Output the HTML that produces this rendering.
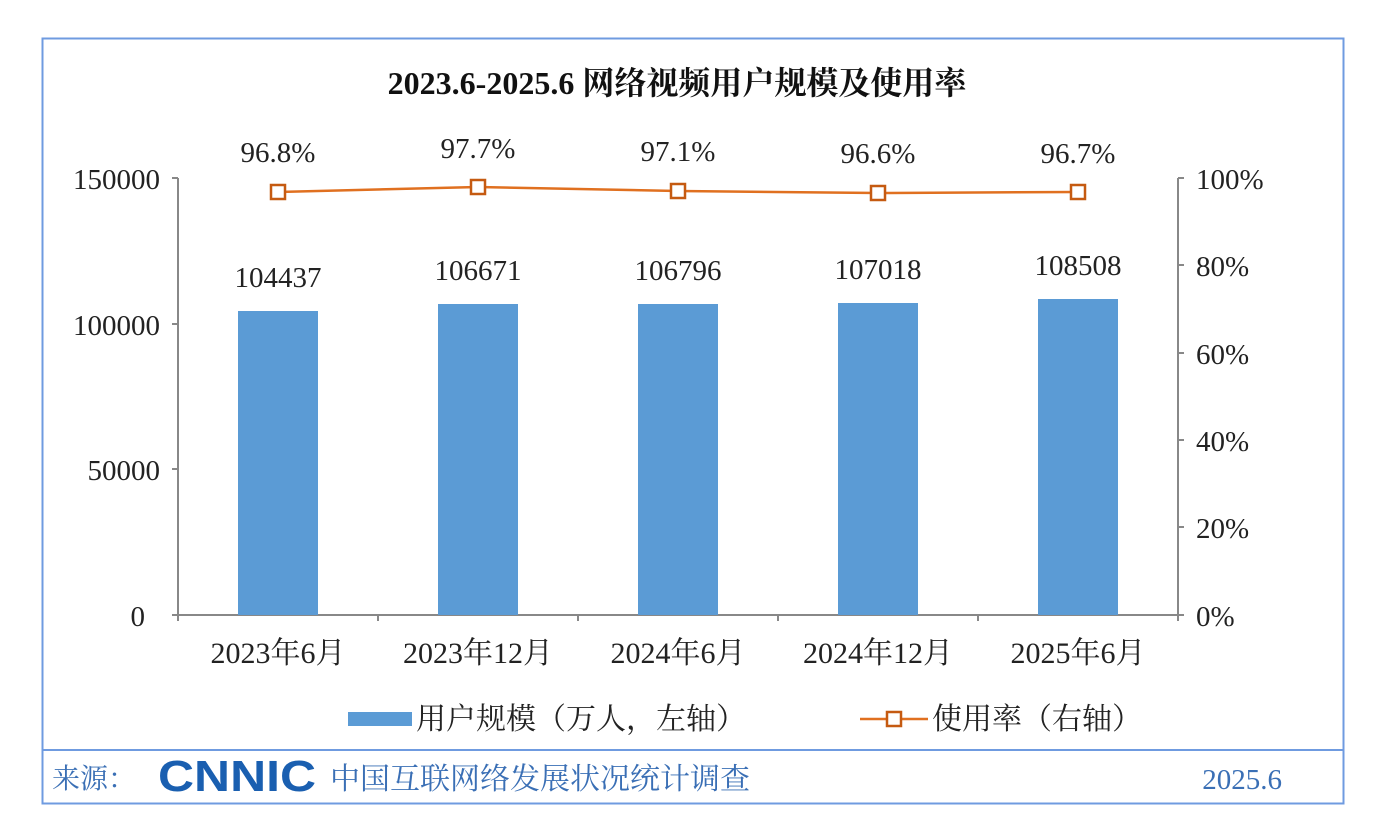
<!DOCTYPE html>
<html><head><meta charset="utf-8"><style>
body{margin:0;background:#fff;}
svg text{font-family:"Liberation Serif","Noto Serif CJK SC",serif;}
</style></head><body>
<svg width="1399" height="834" xmlns="http://www.w3.org/2000/svg">
<rect x="0" y="0" width="1399" height="834" fill="#fff"/>
<rect x="42.5" y="38.5" width="1301" height="765" fill="none" stroke="#6f9be0" stroke-width="2"/>
<line x1="42" y1="750" x2="1344" y2="750" stroke="#6f9be0" stroke-width="2"/>
<text x="677" y="94" font-size="32" font-weight="bold" text-anchor="middle" fill="#111">2023.6-2025.6 网络视频用户规模及使用率</text>
<g stroke="#888" stroke-width="2" fill="none">
<line x1="178" y1="178" x2="178" y2="615"/>
<line x1="1178" y1="178" x2="1178" y2="615"/>
<line x1="178" y1="615" x2="1178" y2="615"/>
<line x1="172" y1="178" x2="178" y2="178"/><line x1="172" y1="324" x2="178" y2="324"/><line x1="172" y1="469" x2="178" y2="469"/><line x1="172" y1="615" x2="178" y2="615"/>
<line x1="1178" y1="178" x2="1184" y2="178"/><line x1="1178" y1="265" x2="1184" y2="265"/><line x1="1178" y1="353" x2="1184" y2="353"/><line x1="1178" y1="440" x2="1184" y2="440"/><line x1="1178" y1="527" x2="1184" y2="527"/><line x1="1178" y1="615" x2="1184" y2="615"/>
<line x1="378" y1="615" x2="378" y2="621"/><line x1="578" y1="615" x2="578" y2="621"/><line x1="778" y1="615" x2="778" y2="621"/><line x1="978" y1="615" x2="978" y2="621"/><line x1="178" y1="615" x2="178" y2="621"/><line x1="1178" y1="615" x2="1178" y2="621"/>
</g>
<g font-size="29" fill="#222" text-anchor="end">
<text x="160" y="189">150000</text><text x="160" y="335">100000</text><text x="160" y="480">50000</text><text x="145" y="626">0</text>
</g>
<g font-size="29" fill="#222" text-anchor="start">
<text x="1196" y="189">100%</text><text x="1196" y="276">80%</text><text x="1196" y="364">60%</text><text x="1196" y="451">40%</text><text x="1196" y="538">20%</text><text x="1196" y="626">0%</text>
</g>
<g fill="#5b9bd5">
<rect x="238" y="311" width="80" height="304"/>
<rect x="438" y="304" width="80" height="311"/>
<rect x="638" y="304" width="80" height="311"/>
<rect x="838" y="303" width="80" height="312"/>
<rect x="1038" y="299" width="80" height="316"/>
</g>
<g font-size="29" fill="#222" text-anchor="middle">
<text x="278" y="287">104437</text><text x="478" y="280">106671</text><text x="678" y="280">106796</text><text x="878" y="279">107018</text><text x="1078" y="275">108508</text>
<text x="278" y="162">96.8%</text><text x="478" y="158">97.7%</text><text x="678" y="161">97.1%</text><text x="878" y="163">96.6%</text><text x="1078" y="163">96.7%</text>
</g>
<g font-size="30" fill="#222" text-anchor="middle">
<text x="278" y="663">2023年6月</text><text x="478" y="663">2023年12月</text><text x="678" y="663">2024年6月</text><text x="878" y="663">2024年12月</text><text x="1078" y="663">2025年6月</text>
</g>
<polyline points="278,192 478,187 678,191 878,193 1078,192" fill="none" stroke="#e07020" stroke-width="2.5"/>
<g fill="#fff" stroke="#c55a11" stroke-width="2.5">
<rect x="271" y="185" width="14" height="14"/><rect x="471" y="180" width="14" height="14"/><rect x="671" y="184" width="14" height="14"/><rect x="871" y="186" width="14" height="14"/><rect x="1071" y="185" width="14" height="14"/>
</g>
<rect x="348" y="712" width="64" height="14" fill="#5b9bd5"/>
<text x="416" y="729" font-size="30" fill="#222">用户规模（万人，左轴）</text>
<line x1="860" y1="719" x2="928" y2="719" stroke="#e07020" stroke-width="2.5"/>
<rect x="887" y="712" width="14" height="14" fill="#fff" stroke="#c55a11" stroke-width="2.5"/>
<text x="932" y="729" font-size="30" fill="#222">使用率（右轴）</text>
<text x="52" y="788" font-size="28" fill="#3a6fb5">来源：</text>
<text x="158" y="791" font-size="44" font-weight="bold" fill="#1a5fb0" textLength="158" lengthAdjust="spacingAndGlyphs" style="font-family:'Liberation Sans',sans-serif">CNNIC</text>
<text x="330" y="789" font-size="30" fill="#3a6fb5">中国互联网络发展状况统计调查</text>
<text x="1282" y="789" font-size="29" fill="#3a6fb5" text-anchor="end">2025.6</text>
</svg>
</body></html>
